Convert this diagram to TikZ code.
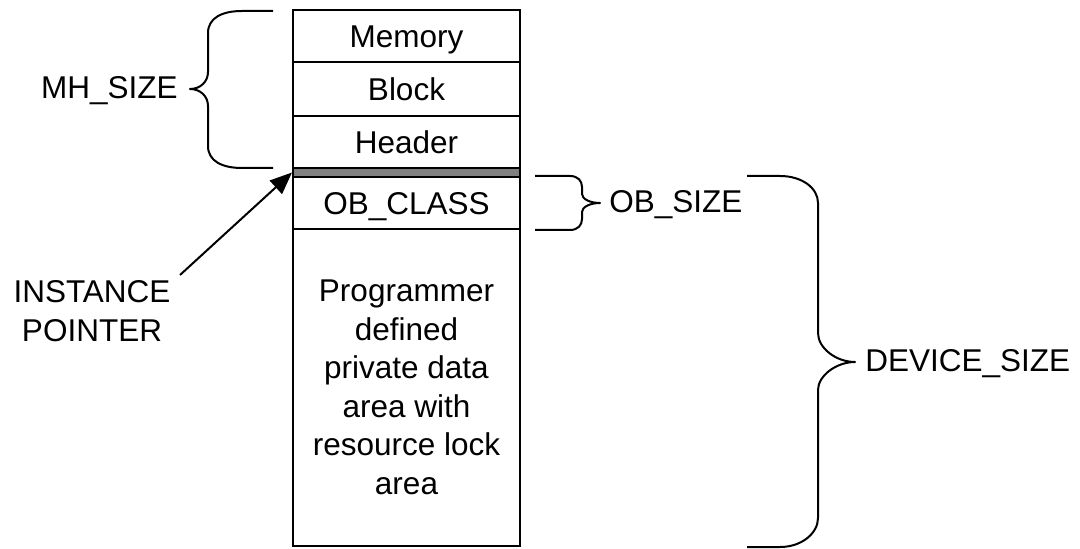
\documentclass[tikz,border=0pt]{standalone}
\usepackage{fontspec}
\setmainfont{Liberation Sans}
\usetikzlibrary{arrows.meta}
\newcommand\dlabelfont{\fontsize{15.75}{19.25}\selectfont}
\begin{document}
\begin{tikzpicture}[x=0.5pt,y=-0.5pt,
  lw/.style={line width=1pt},
  cell/.style={draw,lw,minimum width=113.5pt,inner sep=0pt,
    text height=11.3pt,text depth=0pt,font=\dlabelfont},
  lbl/.style={inner sep=0pt,font=\dlabelfont},
  brace/.style={draw,lw,line join=round},
  ptr/.style={lw,-{Triangle[length=11pt,width=9pt]}}]
\useasboundingbox (0,0) rectangle (1080,549);

% memory block layout
\node[cell,minimum height=26pt] (mem) at (406.5,36) {Memory};
\node[cell,minimum height=27pt] (blk) at (406.5,89) {Block};
\node[cell,minimum height=26pt] (hdr) at (406.5,142) {Header};
\node[draw,lw,fill=black!50,minimum width=113.5pt,minimum height=4.5pt,inner sep=0pt] (band) at (406.5,172.5) {};
\node[cell,minimum height=26pt] (cls) at (406.5,203) {OB\_CLASS};
\node[draw,lw,minimum width=113.5pt,minimum height=158.5pt,inner sep=0pt,
  align=center,font=\dlabelfont] (priv) at (406.5,387.5)
  {Programmer\\defined\\private data\\area with\\resource lock\\area};

% labels
\node[lbl,anchor=base east] (mh) at (178,99) {MH\_SIZE};
\node[lbl,align=center] (inst) at (92,311) {INSTANCE\\POINTER};
\node[lbl,anchor=base west] (ob) at (609,213) {OB\_SIZE};
\node[lbl,anchor=base west] (dev) at (865,372) {DEVICE\_SIZE};

% pointer to the start of the instance data
\coordinate (ptrtail) at (180,275);
\draw[ptr] (ptrtail) -- (band.west);

% header brace
\path[brace] (273,11) -- (242,11) .. controls (222,11) and (208,18) .. (208,33)
  -- (208,72) .. controls (208,82) and (200,89) .. (190,89)
  .. controls (200,89) and (208,96) .. (208,106)
  -- (208,146) .. controls (208,161) and (222,168) .. (242,168) -- (273,168);

% object class brace
\path[brace] (535,176) -- (570,176) .. controls (578,176) and (582,181) .. (582,187)
  -- (582,194) .. controls (582,199) and (590,203) .. (600,203)
  .. controls (590,203) and (582,207) .. (582,212)
  -- (582,219) .. controls (582,225) and (578,230) .. (570,230) -- (535,230);

% device brace
\path[brace] (747,176) -- (780,176) .. controls (802,176) and (818,188) .. (818,203)
  -- (818,333) .. controls (818,348) and (836,362) .. (855,362)
  .. controls (836,362) and (818,376) .. (818,390)
  -- (818,518) .. controls (818,533) and (802,547) .. (780,547) -- (747,547);
\end{tikzpicture}
\end{document}
